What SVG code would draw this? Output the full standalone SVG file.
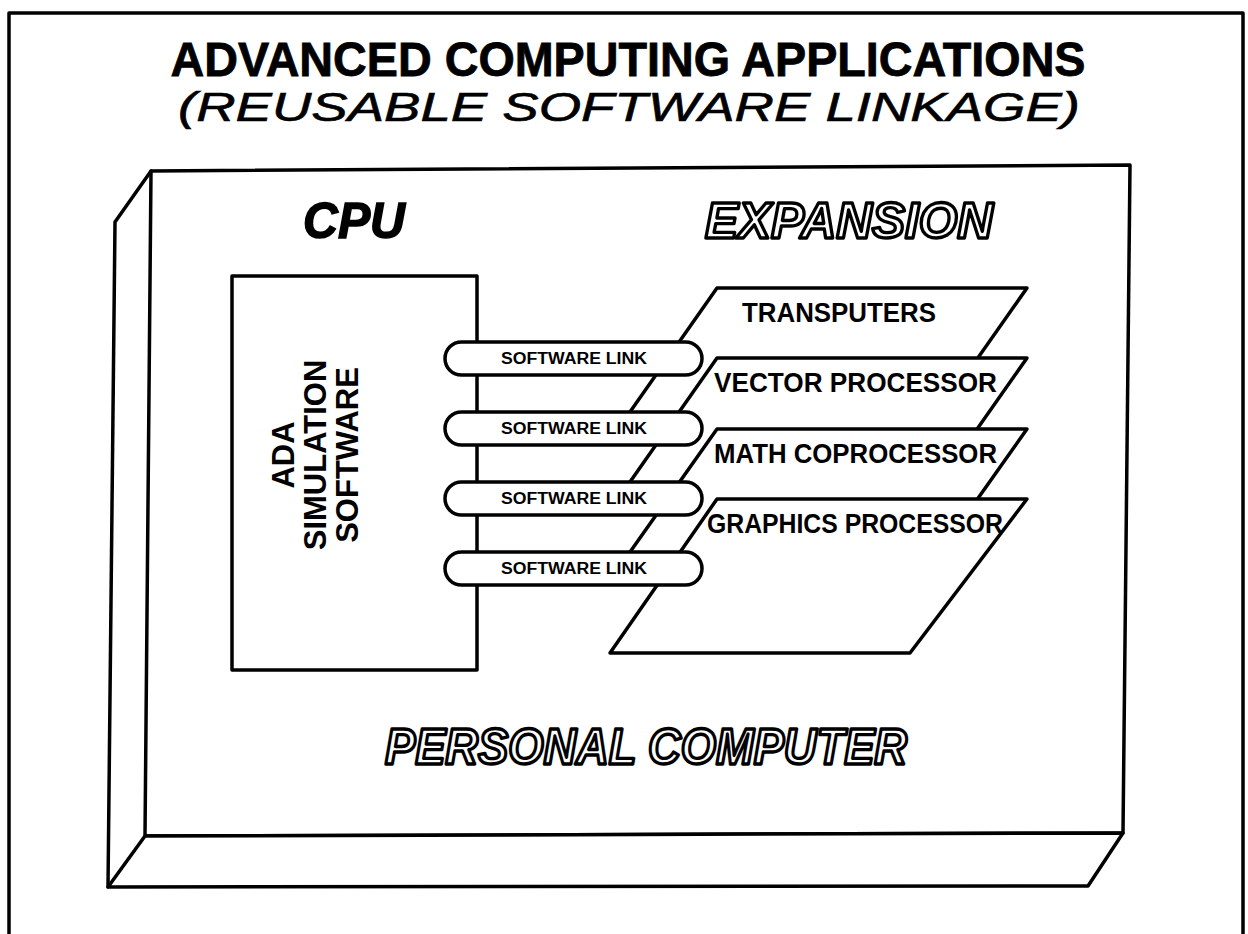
<svg xmlns="http://www.w3.org/2000/svg" width="1248" height="934" viewBox="0 0 1248 934">
<style>
  .ln{fill:none;stroke:#000;stroke-width:3.5;stroke-linejoin:round;stroke-linecap:round}
  .wf{fill:#fff;stroke:#000;stroke-width:3.5;stroke-linejoin:round}
  .t{font-family:"Liberation Sans",Arial,sans-serif;fill:#000}
  .b{font-weight:bold}
  .out{font-family:"Liberation Sans",Arial,sans-serif;font-weight:bold;font-style:italic;fill:#fff;stroke:#000;stroke-width:3.4;stroke-linejoin:round}
  .card{font-family:"Liberation Sans",Arial,sans-serif;font-weight:bold;font-size:27px;fill:#000}
  .link{font-family:"Liberation Sans",Arial,sans-serif;font-weight:bold;font-size:16px;fill:#000}
</style>
<rect width="1248" height="934" fill="#fff"/>
<g id="frame">
  <polyline class="ln" points="9,934 9,13 1243,13 1243,934"/>
</g>
<g id="title">
  <text class="t b" x="628" y="76" font-size="48" stroke="#000" stroke-width="0.8" text-anchor="middle" textLength="915" lengthAdjust="spacingAndGlyphs">ADVANCED COMPUTING APPLICATIONS</text>
  <text class="t" x="629" y="121" font-size="40" font-style="italic" stroke="#000" stroke-width="0.6" text-anchor="middle" textLength="902" lengthAdjust="spacingAndGlyphs">(REUSABLE SOFTWARE LINKAGE)</text>
</g>
<g id="personal-computer">
  <polygon class="wf" points="151,171 1130,165 1123,833 145,836"/>
  <polyline class="ln" points="151,171 115,222 108,887"/>
  <polygon class="wf" points="145,836 1123,833 1088,886 108,887"/>
  <text class="out" x="646" y="764" font-size="50" text-anchor="middle" textLength="522" lengthAdjust="spacingAndGlyphs">PERSONAL COMPUTER</text>
</g>
<g id="cpu">
  <text class="t b" x="354" y="238" font-size="50" font-style="italic" stroke="#000" stroke-width="1.5" text-anchor="middle" textLength="102" lengthAdjust="spacingAndGlyphs">CPU</text>
</g>
<g id="expansion">
  <text class="out" x="849" y="238" font-size="50" text-anchor="middle" textLength="288" lengthAdjust="spacingAndGlyphs">EXPANSION</text>
</g>
<g id="ada">
  <rect class="wf" x="232" y="276" width="245" height="394"/>
  <g transform="translate(311,455) rotate(-90)">
    <text class="t b" x="0" y="-17" font-size="31" text-anchor="middle">ADA</text>
    <text class="t b" x="0" y="15" font-size="31" text-anchor="middle">SIMULATION</text>
    <text class="t b" x="0" y="47" font-size="31" text-anchor="middle">SOFTWARE</text>
  </g>
</g>
<g id="cards">
  <g id="card-transputers">
    <polygon class="wf" points="717,288 1027,288 928,429 618,429"/>
    <text class="card" x="742" y="322" textLength="194" lengthAdjust="spacingAndGlyphs">TRANSPUTERS</text>
  </g>
  <g id="card-vector">
    <polygon class="wf" points="717,358 1027,358 928,499 618,499"/>
    <text class="card" x="714" y="392" textLength="283" lengthAdjust="spacingAndGlyphs">VECTOR PROCESSOR</text>
  </g>
  <g id="card-math">
    <polygon class="wf" points="717,429 1027,429 928,569 618,569"/>
    <text class="card" x="714" y="463" textLength="283" lengthAdjust="spacingAndGlyphs">MATH COPROCESSOR</text>
  </g>
  <g id="card-graphics">
    <polygon class="wf" points="717,499 1027,499 910,653 610,653"/>
    <text class="card" x="707" y="533" textLength="296" lengthAdjust="spacingAndGlyphs">GRAPHICS PROCESSOR</text>
  </g>
</g>
<g id="links">
  <g id="link1"><rect class="wf" x="445" y="342" width="257" height="33" rx="16.5"/><text class="link" x="574" y="364" text-anchor="middle" textLength="146" lengthAdjust="spacingAndGlyphs">SOFTWARE LINK</text></g>
  <g id="link2"><rect class="wf" x="445" y="412" width="257" height="33" rx="16.5"/><text class="link" x="574" y="434" text-anchor="middle" textLength="146" lengthAdjust="spacingAndGlyphs">SOFTWARE LINK</text></g>
  <g id="link3"><rect class="wf" x="445" y="482" width="257" height="33" rx="16.5"/><text class="link" x="574" y="504" text-anchor="middle" textLength="146" lengthAdjust="spacingAndGlyphs">SOFTWARE LINK</text></g>
  <g id="link4"><rect class="wf" x="445" y="552" width="257" height="33" rx="16.5"/><text class="link" x="574" y="574" text-anchor="middle" textLength="146" lengthAdjust="spacingAndGlyphs">SOFTWARE LINK</text></g>
</g>
</svg>
